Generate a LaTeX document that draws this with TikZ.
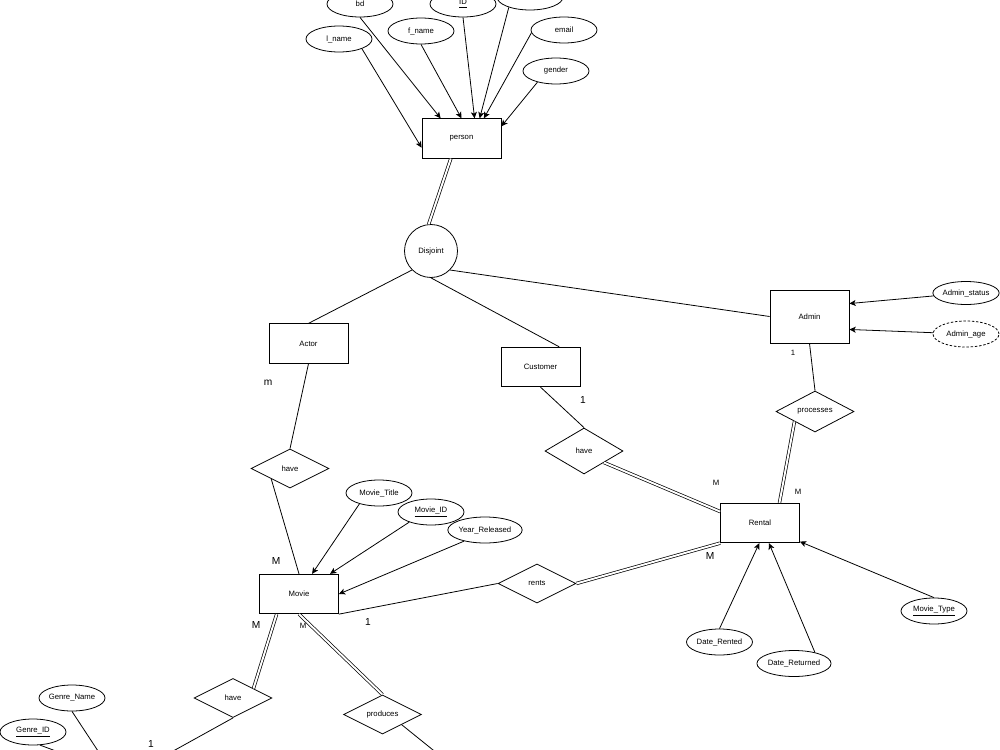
\documentclass[tikz,border=0pt]{standalone}
\usepackage{fontspec}
\setmainfont{Liberation Sans}
\usetikzlibrary{shapes.geometric, arrows.meta, positioning}

\begin{document}
\begin{tikzpicture}[
    x=0.02cm, y=-0.02cm,
    line width=0.45pt,
    every node/.style={font=\fontsize{4.4}{5}\selectfont},
    entity/.style={rectangle, draw=black, line width=0.45pt, minimum width=1.58cm, minimum height=0.79cm, inner sep=0pt},
    attr/.style={ellipse, draw=black, line width=0.45pt, minimum width=1.32cm, minimum height=0.52cm, inner sep=0pt},
    derived/.style={attr, dash pattern=on 1.4pt off 1pt},
    rel/.style={diamond, draw=black, line width=0.45pt, minimum width=1.56cm, minimum height=0.78cm, inner sep=0pt},
    spec/.style={circle, draw=black, line width=0.45pt, minimum size=1.06cm, inner sep=0pt},
    card/.style={font=\fontsize{5.8}{6}\selectfont, inner sep=0pt},
    cardsmall/.style={font=\fontsize{4.4}{5}\selectfont, inner sep=0pt},
    attrarrow/.style={-{Stealth[length=3.6pt, width=3.4pt, inset=0.9pt]}},
    total/.style={double, double distance=1.1pt, line width=0.4pt}
]
    \useasboundingbox (0,0) rectangle (1000,750);

    % Person and its attributes
    \node[entity] (person) at (461.5,138.5) {person};
    \node[attr] (bd) at (360,4) {bd};
    \node[attr] (pid) at (463,4) {\underline{ID}};
    \node[attr] (ptop) at (530,-3) {};
    \node[attr] (lname) at (339,39) {l\_name};
    \node[attr] (fname) at (421,31) {f\_name};
    \node[attr] (email) at (564,30) {email};
    \node[attr] (gender) at (556,71) {gender};

    \draw[attrarrow] (lname.-23) -- (person.193);
    \draw[attrarrow] (bd.south) -- (person.136);
    \draw[attrarrow] (fname.south) -- (person.90);
    \draw[attrarrow] (pid.south) -- (person.57);
    \draw[attrarrow] (ptop.-154) -- (person.48);
    \draw[attrarrow] (email.185) -- (person.42);
    \draw[attrarrow] (gender.-149) -- (person.17);

    % Specialisation
    \node[spec] (disjoint) at (431,251) {Disjoint};
    \draw[total] (person.242) -- (disjoint.95);

    \node[entity] (actor) at (308.5,343.5) {Actor};
    \node[entity] (customer) at (540.5,367) {Customer};
    \node[entity, minimum height=1.06cm] (admin) at (809.5,316.5) {Admin};

    \draw (disjoint.-135) -- (actor.north);
    \draw (disjoint.-90) -- (customer.47);
    \draw (disjoint.-45) -- (admin.west);

    % Admin attributes
    \node[attr, minimum height=0.46cm] (adminstatus) at (966,293) {Admin\_status};
    \node[derived] (adminage) at (966,334) {Admin\_age};
    \draw[attrarrow] (adminstatus) -- (admin.18);
    \draw[attrarrow] (adminage) -- (admin.-18);

    % Rental
    \node[entity] (rental) at (760,523) {Rental};
    \node[rel] (processes) at (815,411.5) {processes};
    \node[rel, minimum height=0.92cm] (havecust) at (584,451) {have};
    \node[rel] (rents) at (537,583.5) {rents};

    \draw (admin.south) -- (processes.north);
    \draw[total] (processes.-154) -- (rental.46);
    \draw (customer.south) -- (havecust.north);
    \draw[total] (havecust.-30) -- (rental.164);
    \draw[total] (rents.east) -- (rental.south west);

    % Rental attributes
    \node[attr] (daterented) at (719.5,642) {Date\_Rented};
    \node[attr] (datereturned) at (794,663.5) {Date\_Returned};
    \node[attr] (movietype) at (934,611) {\underline{Movie\_Type}};
    \draw[attrarrow] (daterented.north) -- (rental.-92);
    \draw[attrarrow] (datereturned.28) -- (rental.-66);
    \draw[attrarrow] (movietype.north) -- (rental.-25);

    % Movie
    \node[entity] (movie) at (299,594) {Movie};
    \node[rel] (haveactor) at (290,468.5) {have};
    \node[attr] (movietitle) at (379,493) {Movie\_Title};
    \node[attr] (movieid) at (431,512) {\underline{Movie\_ID}};
    \node[attr] (yearreleased) at (485,530) {Year\_Released};

    \draw (actor.south) -- (haveactor.north);
    \draw (haveactor.-151) -- (movie.north);
    \draw[attrarrow] (movietitle.-151) -- (movie.57);
    \draw[attrarrow] (movieid.-155) -- (movie.33);
    \draw[attrarrow] (yearreleased.-152) -- (movie.east);
    \draw (movie.south east) -- (rents.west);

    % Genre and production
    \node[rel] (havegenre) at (233,698) {have};
    \node[rel] (produces) at (382.5,714.5) {produces};
    \node[attr] (genrename) at (72,698) {Genre\_Name};
    \node[attr] (genreid) at (33,732) {\underline{Genre\_ID}};
    \coordinate (genreend) at (166,755);
    \coordinate (producesend) at (438,754);
    \coordinate (genrenameend) at (100,754);
    \coordinate (genreidend) at (64,754);

    \draw[total] (movie.-138) -- (havegenre.25);
    \draw[total] (movie.south) -- (produces.north);
    \draw (havegenre.south) -- (genreend);
    \draw (produces.-28) -- (producesend);
    \draw (genrename.south) -- (genrenameend);
    \draw (genreid.-62) -- (genreidend);

    % Cardinalities
    \node[card] (cactor) at (268,383) {m};
    \node[card] (ccustomer) at (583,400) {1};
    \node[cardsmall] (cadmin) at (793,353) {1};
    \node[cardsmall] (crentalhave) at (716,483) {M};
    \node[cardsmall] (crentalproc) at (798,492) {M};
    \node[card] (cmovieactor) at (276,561) {M};
    \node[card] (cmovierents) at (368,622) {1};
    \node[card] (crentalrents) at (710,556) {M};
    \node[card] (cmoviegenre) at (256,625) {M};
    \node[cardsmall] (cmovieprod) at (303,626) {M};
    \node[card] (cgenre) at (151,744) {1};
\end{tikzpicture}
\end{document}
